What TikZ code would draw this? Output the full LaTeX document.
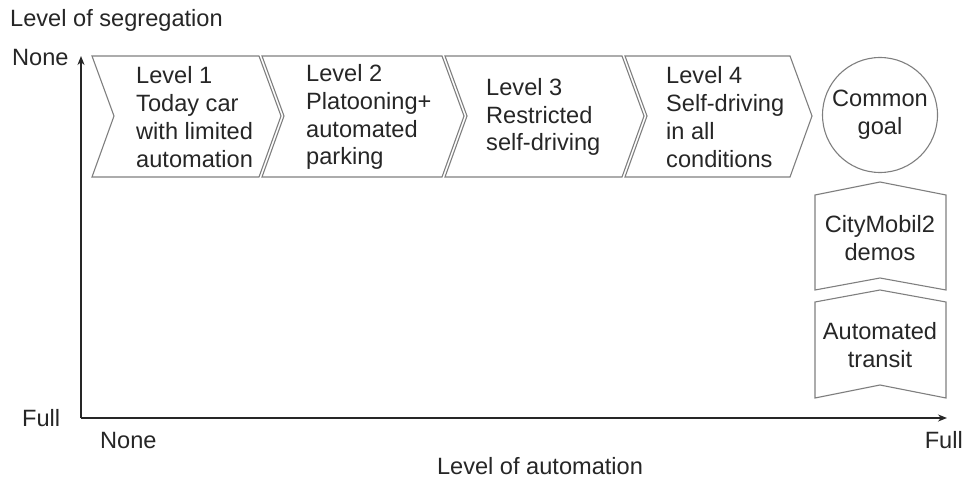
\documentclass[tikz,border=0pt]{standalone}
\usepackage{fontspec}
\setmainfont{Liberation Sans}
\usetikzlibrary{positioning}
\usetikzlibrary{arrows.meta}
\definecolor{linegray}{HTML}{7F7F7F}
\definecolor{txtgray}{HTML}{262626}

\begin{document}
\begin{tikzpicture}[x=1pt, y=-1pt,
		stage/.style={draw=linegray, line width=1.1pt, line join=miter},
		lbl/.style={text=txtgray, font=\fontsize{23.6}{27.8}\selectfont, inner sep=0pt},
		axis/.style={draw=txtgray, line width=1.7pt}]
	\useasboundingbox (0,0) rectangle (965,481);
	% chevrons along the top
	\foreach \l/\r in {92/259, 262/442, 445/622, 625/790}
		\draw[stage] (\l,56) -- (\r,56) -- (\r+22,116) -- (\r,177) -- (\l,177) -- (\l+22,116) -- cycle;
	\node[lbl, align=left, anchor=west] (lev1) at (136,117) {Level 1\\Today car\\with limited\\automation};
	\node[lbl, align=left, anchor=west] (lev2) at (306,117) {Level 2\\Platooning+\\automated\\parking};
	\node[lbl, align=left, anchor=west] (lev3) at (486,117) {Level 3\\Restricted\\self-driving};
	\node[lbl, align=left, anchor=west] (lev4) at (666,117) {Level 4\\Self-driving\\in all\\conditions};
	% goal and the two arrow boxes
	\node[stage, circle, minimum size=115pt, lbl, align=center] (goal) at (880,115) {Common\\goal};
	\draw[stage] (815,195) -- (880,182) -- (946,195) -- (946,290) -- (880,278) -- (815,290) -- cycle;
	\node[lbl, align=center] (demos) at (880,238) {CityMobil2\\demos};
	\draw[stage] (815,302) -- (880,290) -- (946,302) -- (946,398) -- (880,385) -- (815,398) -- cycle;
	\node[lbl, align=center] (transit) at (880,345) {Automated\\transit};
	% axes
	\coordinate (origin) at (81,418);
	\coordinate (ytop) at (81,56);
	\coordinate (xend) at (947,418);
	\draw[axis, -{Stealth[length=9pt, width=7pt]}] (origin) -- (ytop);
	\draw[axis, -{Stealth[length=9pt, width=7pt]}] (origin) -- (xend);
	\node[lbl, anchor=west] (ytitle) at (10,20) {Level of segregation};
	\node[lbl, anchor=west] (ynone) at (12,57) {None};
	\node[lbl, anchor=west] (yfull) at (22,418) {Full};
	\node[lbl, anchor=west] (xnone) at (100,440) {None};
	\node[lbl, anchor=east] (xfull) at (963,440) {Full};
	\node[lbl] (xtitle) at (540,466) {Level of automation};
\end{tikzpicture}
\end{document}
